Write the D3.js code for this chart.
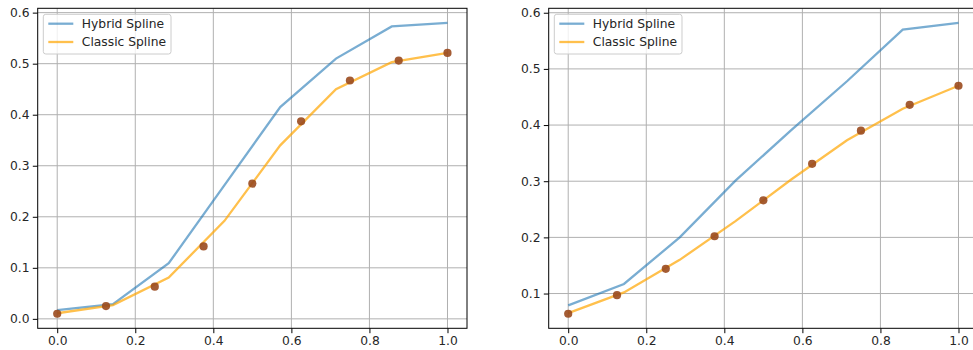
<!DOCTYPE html>
<html>
<head>
<meta charset="utf-8">
<script src="https://cdn.jsdelivr.net/npm/d3@7"></script>
<style>
  html, body { margin: 0; padding: 0; background: #fff; }
  svg { display: block; }
  text { font-family: "DejaVu Sans", sans-serif; }
</style>
</head>
<body>
<svg id="chart" width="973" height="350"></svg>
<script>
// ---- data ----
const seriesNames = ["Hybrid Spline", "Classic Spline"];
const xTicks = [0.0, 0.2, 0.4, 0.6, 0.8, 1.0];
const yTicksLeft = [0.0, 0.1, 0.2, 0.3, 0.4, 0.5, 0.6];
const yTicksRight = [0.1, 0.2, 0.3, 0.4, 0.5, 0.6];

// spline curves sampled at x = k/7
const curveX = [0, 1/7, 2/7, 3/7, 4/7, 5/7, 6/7, 1];
const hybridLeft  = [0.017, 0.029, 0.109, 0.262, 0.415, 0.510, 0.573, 0.580];
const classicLeft = [0.011, 0.027, 0.081, 0.192, 0.340, 0.450, 0.503, 0.521];
const hybridRight  = [0.079, 0.117, 0.200, 0.301, 0.391, 0.478, 0.570, 0.582];
const classicRight = [0.065, 0.102, 0.160, 0.229, 0.303, 0.373, 0.429, 0.470];

// sample points at x = k/8
const pointX = [0, 0.125, 0.25, 0.375, 0.5, 0.625, 0.75, 0.875, 1];
const pointsLeft  = [0.010, 0.025, 0.063, 0.142, 0.265, 0.387, 0.467, 0.506, 0.521];
const pointsRight = [0.064, 0.097, 0.144, 0.202, 0.266, 0.331, 0.390, 0.436, 0.470];

// ---- drawing ----
const svg = d3.select("#chart");
const colors = { hybrid: "#1f77b4", classic: "#ffa500", point: "#9a4a1e" };
const FS = 12.3;

function panel(left, yTicks, hybrid, classic, points) {
  const top = 8.3, bottom = 328.3, width = 429.3;
  const allY = hybrid.concat(classic, points);
  const ymin = d3.min(allY), ymax = d3.max(allY), m = (ymax - ymin) * 0.05;
  const x = d3.scaleLinear().domain([-0.05, 1.05]).range([left, left + width]);
  const y = d3.scaleLinear().domain([ymin - m, ymax + m]).range([bottom, top]);

  const g = svg.append("g");
  const clipId = "clip" + Math.round(left);
  g.append("clipPath").attr("id", clipId).append("rect")
    .attr("x", left).attr("y", top).attr("width", width).attr("height", bottom - top);

  // grid
  const grid = g.append("g").attr("clip-path", `url(#${clipId})`);
  grid.selectAll("line.gx").data(xTicks).join("line")
    .attr("x1", d => x(d)).attr("x2", d => x(d)).attr("y1", top).attr("y2", bottom)
    .attr("stroke", "#b0b0b0").attr("stroke-width", 1);
  grid.selectAll("line.gy").data(yTicks).join("line").attr("class", "gy")
    .attr("x1", left).attr("x2", left + width).attr("y1", d => y(d)).attr("y2", d => y(d))
    .attr("stroke", "#b0b0b0").attr("stroke-width", 1);

  // lines
  const line = d3.line().x((d, i) => x(curveX[i])).y(d => y(d));
  const plot = g.append("g").attr("clip-path", `url(#${clipId})`);
  plot.append("path").datum(hybrid).attr("d", line).attr("fill", "none")
    .attr("stroke", colors.hybrid).attr("stroke-opacity", 0.6).attr("stroke-width", 2.3);
  plot.append("path").datum(classic).attr("d", line).attr("fill", "none")
    .attr("stroke", colors.classic).attr("stroke-opacity", 0.7).attr("stroke-width", 2.3);
  plot.selectAll("circle").data(points).join("circle")
    .attr("cx", (d, i) => x(pointX[i])).attr("cy", d => y(d)).attr("r", 4.1)
    .attr("fill", colors.point).attr("fill-opacity", 0.9);

  // axes
  const xAxis = d3.axisBottom(x).tickValues(xTicks).tickFormat(d3.format(".1f"))
    .tickSize(4.9).tickPadding(3.3);
  const yAxis = d3.axisLeft(y).tickValues(yTicks).tickFormat(d3.format(".1f"))
    .tickSize(4.9).tickPadding(3.3);
  const gx = g.append("g").attr("transform", `translate(0,${bottom})`).call(xAxis);
  const gy = g.append("g").attr("transform", `translate(${left},0)`).call(yAxis);
  [gx, gy].forEach(a => {
    a.select(".domain").remove();
    a.selectAll(".tick line").attr("stroke", "#000").attr("stroke-width", 1);
    a.selectAll(".tick text").attr("font-size", FS).attr("fill", "#262626")
      .attr("font-family", "DejaVu Sans");
  });

  // spines
  g.append("rect").attr("x", left).attr("y", top).attr("width", width).attr("height", bottom - top)
    .attr("fill", "none").attr("stroke", "#000").attr("stroke-width", 1);

  // legend
  const lg = g.append("g").attr("transform", `translate(${left + 5.6},${top + 6})`);
  lg.append("rect").attr("x", 0).attr("y", 0).attr("width", 127.7).attr("height", 39.7)
    .attr("rx", 2.5).attr("fill", "#fff").attr("fill-opacity", 0.8)
    .attr("stroke", "#cccccc").attr("stroke-width", 1);
  const items = [
    { name: seriesNames[0], color: colors.hybrid, op: 0.6 },
    { name: seriesNames[1], color: colors.classic, op: 0.7 }
  ];
  items.forEach((it, i) => {
    const yy = 9.4 + i * 18.3;
    lg.append("line").attr("x1", 5).attr("x2", 30).attr("y1", yy).attr("y2", yy)
      .attr("stroke", it.color).attr("stroke-opacity", it.op).attr("stroke-width", 2.3);
    lg.append("text").attr("x", 38.5).attr("y", yy).attr("dy", "0.35em")
      .attr("font-size", FS).attr("fill", "#262626").text(it.name);
  });
}

panel(37.7, yTicksLeft, hybridLeft, classicLeft, pointsLeft);
panel(548.7, yTicksRight, hybridRight, classicRight, pointsRight);
</script>
</body>
</html>
